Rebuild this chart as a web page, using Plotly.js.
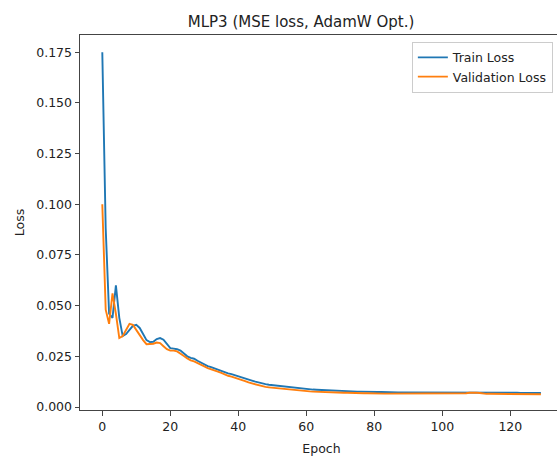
<!DOCTYPE html>
<html>
<head>
<meta charset="utf-8">
<script src="https://cdn.plot.ly/plotly-3.0.1.min.js"></script>
<style>
html, body { margin: 0; padding: 0; overflow: hidden; background: #fff; }
#chart { width: 600px; height: 458px; }
</style>
</head>
<body>
<div id="chart"></div>
<script>
const chartTitle = "MLP3 (MSE loss, AdamW Opt.)";
const xLabel = "Epoch";
const yLabel = "Loss";
const seriesNames = ["Train Loss", "Validation Loss"];
const xTickVals = [0, 20, 40, 60, 80, 100, 120];
const yTickVals = [0, 0.025, 0.05, 0.075, 0.1, 0.125, 0.15, 0.175];

const trainLoss = [
  0.175, 0.088, 0.046, 0.044, 0.060, 0.044, 0.035, 0.036, 0.038, 0.040,
  0.0405, 0.039, 0.036, 0.033, 0.032, 0.0322, 0.0335, 0.034, 0.0332, 0.031,
  0.029, 0.0288, 0.0285, 0.0278, 0.0265, 0.025, 0.0242, 0.0238, 0.0228, 0.0218,
  0.0210, 0.0202, 0.0197, 0.0190, 0.0184, 0.0178, 0.0172, 0.0166, 0.0162, 0.0156,
  0.0150, 0.0146, 0.0141, 0.0135, 0.0130, 0.0125, 0.0120, 0.0116, 0.0113, 0.0110,
  0.0108, 0.0106, 0.0105, 0.0103, 0.0100, 0.0098, 0.0096, 0.0093, 0.0091, 0.0089,
  0.0088, 0.0087, 0.0086, 0.0085, 0.0084, 0.0083, 0.0082, 0.0081, 0.0080, 0.0080,
  0.0079, 0.0078, 0.0078, 0.0077, 0.0077, 0.0076, 0.0076, 0.0075, 0.0075, 0.0075,
  0.0074, 0.0074, 0.0074, 0.0073, 0.0073, 0.0073, 0.0073, 0.0072, 0.0072, 0.0072,
  0.0072, 0.0072, 0.0071, 0.0071, 0.0071, 0.0071, 0.0071, 0.0071, 0.0071, 0.0071,
  0.0071, 0.0071, 0.0071, 0.0071, 0.0071, 0.0071, 0.0071, 0.0072, 0.0072, 0.0073,
  0.0073, 0.0072, 0.0071, 0.0071, 0.0071, 0.0070, 0.0070, 0.0070, 0.0070, 0.0070,
  0.0070, 0.0070, 0.0070, 0.0069, 0.0069, 0.0069, 0.0069, 0.0069, 0.0069, 0.0069
];
const valLoss = [
  0.100, 0.048, 0.041, 0.056, 0.046, 0.034, 0.035, 0.038, 0.041, 0.0405,
  0.038, 0.035, 0.033, 0.031, 0.031, 0.0312, 0.0318, 0.0315, 0.0300, 0.0285,
  0.0278, 0.0278, 0.0274, 0.0265, 0.0252, 0.0240, 0.0230, 0.0225, 0.0218, 0.0208,
  0.0200, 0.0192, 0.0185, 0.0180, 0.0174, 0.0168, 0.0160, 0.0154, 0.0150, 0.0145,
  0.0140, 0.0134, 0.0128, 0.0121, 0.0116, 0.0112, 0.0108, 0.0103, 0.0099, 0.0097,
  0.0095, 0.0094, 0.0093, 0.0091, 0.0089, 0.0086, 0.0084, 0.0082, 0.0080, 0.0079,
  0.0078, 0.0077, 0.0076, 0.0075, 0.0074, 0.0073, 0.0073, 0.0072, 0.0072, 0.0071,
  0.0071, 0.0070, 0.0070, 0.0069, 0.0069, 0.0069, 0.0068, 0.0068, 0.0068, 0.0067,
  0.0067, 0.0067, 0.0067, 0.0066, 0.0066, 0.0066, 0.0066, 0.0066, 0.0066, 0.0066,
  0.0066, 0.0065, 0.0065, 0.0065, 0.0065, 0.0065, 0.0065, 0.0065, 0.0065, 0.0065,
  0.0065, 0.0065, 0.0065, 0.0066, 0.0066, 0.0066, 0.0067, 0.0068, 0.0070, 0.0071,
  0.0071, 0.0069, 0.0066, 0.0065, 0.0065, 0.0065, 0.0064, 0.0064, 0.0064, 0.0064,
  0.0064, 0.0064, 0.0064, 0.0063, 0.0063, 0.0063, 0.0063, 0.0063, 0.0063, 0.0063
];
const epochs = trainLoss.map((_, i) => i);

const font = "DejaVu Sans, sans-serif";
const axisColor = "#444";

const traces = [
  { x: epochs, y: trainLoss, name: seriesNames[0], type: "scatter", mode: "lines",
    line: { color: "#1f77b4", width: 1.9 } },
  { x: epochs, y: valLoss, name: seriesNames[1], type: "scatter", mode: "lines",
    line: { color: "#ff7f0e", width: 1.9 } }
];

const layout = {
  width: 600, height: 458,
  margin: { l: 80, r: 37, t: 35, b: 48 },
  paper_bgcolor: "#fff", plot_bgcolor: "#fff",
  font: { family: font, size: 12.5, color: "#222" },
  title: { text: chartTitle, font: { family: font, size: 15, color: "#222" },
           xref: "paper", x: 0.4576, xanchor: "center",
           yref: "container", y: 1 - 22 / 458, yanchor: "middle" },
  xaxis: {
    range: [-6.56, 135.5], tickvals: xTickVals, ticktext: xTickVals.map(String),
    showgrid: false, zeroline: false, showline: true, linecolor: axisColor, linewidth: 1,
    mirror: true, ticks: "outside", ticklen: 4.5, tickcolor: axisColor, tickwidth: 1,
    tickfont: { family: font, size: 12.5, color: "#222" },
    title: { text: xLabel, font: { family: font, size: 12.5, color: "#222" }, standoff: 11 }
  },
  yaxis: {
    range: [-0.00148, 0.1835], tickvals: yTickVals, tickformat: ".3f",
    showgrid: false, zeroline: false, showline: true, linecolor: axisColor, linewidth: 1,
    mirror: true, ticks: "outside", ticklen: 4.5, tickcolor: axisColor, tickwidth: 1,
    tickfont: { family: font, size: 12.5, color: "#222" },
    title: { text: yLabel, font: { family: font, size: 12.5, color: "#222" }, standoff: 8 }
  },
  showlegend: true,
  legend: {
    x: 0.979, xanchor: "right", y: 0.982, yanchor: "top",
    bgcolor: "rgba(255,255,255,0.8)", bordercolor: "#ccc", borderwidth: 1,
    font: { family: font, size: 12.5, color: "#222" }, itemwidth: 30
  }
};

Plotly.newPlot("chart", traces, layout, { displayModeBar: false, staticPlot: true });
</script>
</body>
</html>
